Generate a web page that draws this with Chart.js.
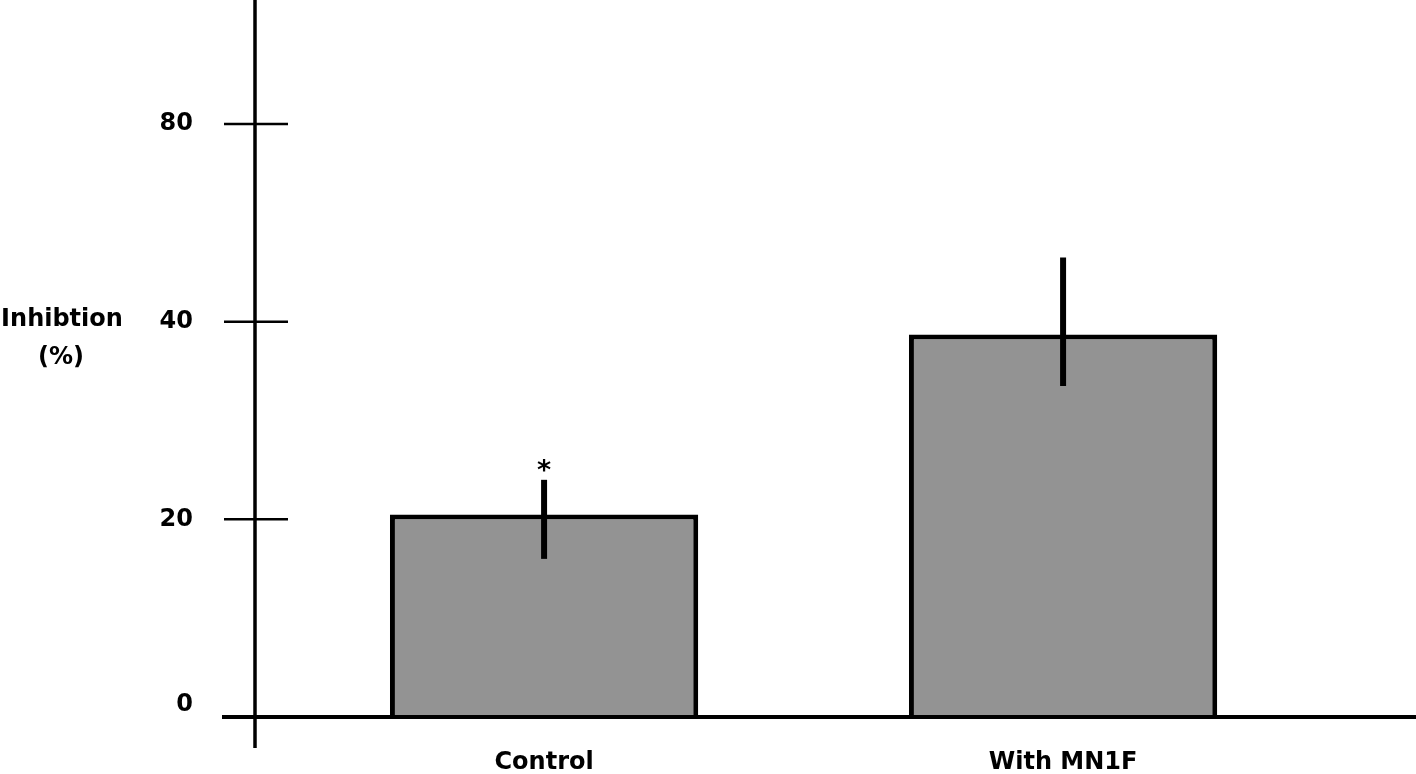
<!DOCTYPE html>
<html>
<head>
<meta charset="utf-8">
<script src="https://cdn.jsdelivr.net/npm/chart.js@4/dist/chart.umd.min.js"></script>
<style>
  html, body { margin: 0; padding: 0; background: #fff; }
  #wrap { width: 1416px; height: 774px; }
</style>
</head>
<body>
<div id="wrap"><canvas id="chart" width="1416" height="774"></canvas></div>
<script>
// data
const categories = ['Control', 'With MN1F'];
const inhibition = [20.5, 38.7];
const errLow = [16.0, 33.5];
const errHigh = [24.0, 46.5];
const marks = ['*', ''];

// y ticks: evenly spaced, but the top one is printed as "80" in the original
const yTickValues = [0, 20, 40, 60];
const yTickLabels = ['0', '20', '40', '80'];

const FONT = "'DejaVu Sans', sans-serif";

// axis lines, crossing tick marks, horizontal y title
const axisDecor = {
    id: 'axisDecor',
    afterDraw(chart) {
        const ctx = chart.ctx;
        const area = chart.chartArea;
        const y = chart.scales.y;
        ctx.save();
        ctx.strokeStyle = '#000';
        ctx.lineCap = 'butt';

        // y axis runs a bit below the x axis
        ctx.lineWidth = 3.5;
        ctx.beginPath();
        ctx.moveTo(area.left, 0);
        ctx.lineTo(area.left, area.bottom + 31);
        ctx.stroke();

        // x axis starts a bit left of the y axis
        ctx.lineWidth = 4;
        ctx.beginPath();
        ctx.moveTo(area.left - 33, area.bottom);
        ctx.lineTo(area.right, area.bottom);
        ctx.stroke();

        // tick marks crossing the axis
        ctx.lineWidth = 2.5;
        yTickValues.forEach(v => {
            if (v === 0) return;
            const py = y.getPixelForValue(v);
            ctx.beginPath();
            ctx.moveTo(area.left - 31, py);
            ctx.lineTo(area.left + 33, py);
            ctx.stroke();
        });

        ctx.fillStyle = '#000';
        ctx.font = 'bold 24px ' + FONT;
        ctx.textAlign = 'center';
        ctx.textBaseline = 'middle';
        ctx.fillText('Inhibtion', 62, 320);
        ctx.fillText('(%)', 61, 358);
        ctx.restore();
    }
};

// plain vertical error bars (no caps) plus the significance mark
const errorBars = {
    id: 'errorBars',
    afterDatasetsDraw(chart) {
        const ctx = chart.ctx;
        const y = chart.scales.y;
        const bars = chart.getDatasetMeta(0).data;
        ctx.save();
        ctx.strokeStyle = '#000';
        ctx.lineWidth = 6;
        bars.forEach((bar, i) => {
            const top = y.getPixelForValue(errHigh[i]);
            ctx.beginPath();
            ctx.moveTo(bar.x, y.getPixelForValue(errLow[i]));
            ctx.lineTo(bar.x, top);
            ctx.stroke();
            if (marks[i]) {
                ctx.fillStyle = '#000';
                ctx.font = 'bold 27px ' + FONT;
                ctx.textAlign = 'center';
                ctx.textBaseline = 'alphabetic';
                ctx.fillText(marks[i], bar.x, top - 1);
            }
        });
        ctx.restore();
    }
};

new Chart(document.getElementById('chart'), {
    type: 'bar',
    data: {
        datasets: [{
            data: categories.map((c, i) => ({ x: i + 1, y: inhibition[i] })),
            backgroundColor: 'rgb(147,147,147)',
            borderColor: '#000',
            borderWidth: 5,
            barPercentage: 0.594,
            categoryPercentage: 1.0
        }]
    },
    options: {
        responsive: false,
        animation: false,
        layout: { padding: 0 },
        plugins: {
            legend: { display: false },
            tooltip: { enabled: false }
        },
        scales: {
            x: {
                type: 'linear',
                offset: false,
                min: 0.443,
                max: 2.68,
                grid: { display: false, drawTicks: false },
                border: { display: false },
                afterBuildTicks: s => { s.ticks = categories.map((c, i) => ({ value: i + 1 })); },
                afterFit: s => { s.height = 57; s.paddingLeft = 0; s.paddingRight = 0; },
                ticks: {
                    color: '#000',
                    padding: 34,
                    maxRotation: 0,
                    font: { family: FONT, size: 24, weight: 'bold', lineHeight: 1 },
                    callback: v => categories[v - 1]
                }
            },
            y: {
                min: 0,
                max: 72.55,
                grid: { display: false, drawTicks: false },
                border: { display: false },
                afterBuildTicks: s => { s.ticks = yTickValues.map(v => ({ value: v })); },
                afterFit: s => { s.width = 255; s.paddingTop = 0; s.paddingBottom = 0; },
                ticks: {
                    color: '#000',
                    padding: 62,
                    font: { family: FONT, size: 24, weight: 'bold', lineHeight: 1 },
                    // zero label sits a little above the baseline
                    callback: (v, i) => v === 0 ? [yTickLabels[i], ''] : yTickLabels[i]
                }
            }
        }
    },
    plugins: [axisDecor, errorBars]
});
</script>
</body>
</html>
